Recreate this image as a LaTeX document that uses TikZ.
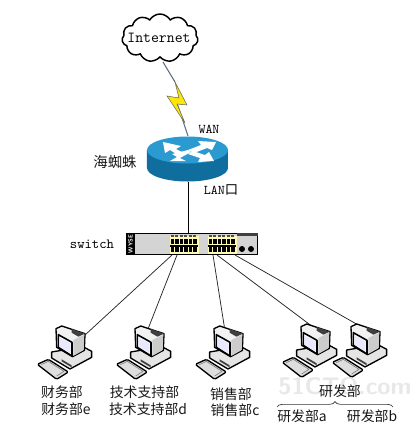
\documentclass[tikz,border=0pt]{standalone}
\usepackage{fontspec}
\usepackage{tikz}
\usetikzlibrary{shapes.symbols,decorations.pathreplacing}
\newfontfamily\cjkfont{Noto Sans CJK SC}[Scale=1]
\definecolor{routertop}{HTML}{2A9AD0}
\definecolor{routerside}{HTML}{0F6E9E}
\definecolor{boltline}{HTML}{5E6E7E}
\tikzset{
  x=0.75pt,y=-0.75pt,
  lab/.style={font=\cjkfont\fontsize{10.4pt}{11pt}\selectfont,inner sep=0pt,text=black!90},
  latin/.style={font=\ttfamily\fontsize{10pt}{11pt}\selectfont,inner sep=0pt},
  link/.style={draw=black!85,line width=0.55pt},
  pc/.pic={
    \begin{scope}[x=0.25pt,y=-0.25pt,line join=round,line width=1pt]
      % keyboard
      \draw[fill=black!13,rounded corners=1pt] (52,133)--(85,118)--(145,156)--(110,178)--cycle;
      \draw[black!50,line width=0.5pt] (64,134)--(85,124)--(132,154)--(110,168);
      % base
      \draw[fill=black!10] (95,96)--(95,114)--(150,147)--(215,112)--(215,94)--(185,78)--(130,90)--cycle;
      \fill[black!75] (125,118)--(155,136)--(155,142)--(125,124)--cycle;
      % monitor body
      \draw[fill=black!5] (108,26)--(125,18)--(195,41)--(193,91)--(158,110)--(110,82)--cycle;
      \fill[black!75] (155,27)--(195,41)--(175,50)--(155,38)--cycle;
      \fill[black!20] (160,60)--(193,44)--(191,90)--(160,108)--cycle;
      % screen
      \draw[fill=white,line width=1.2pt] (115,44)--(156,67)--(156,108)--(115,82)--cycle;
      \fill[blue!9] (119,52)--(152,71)--(152,100)--(119,79)--cycle;
    \end{scope}
  }
}
\begin{document}
\begin{tikzpicture}
\useasboundingbox[fill=white] (0,0) rectangle (420,437);

% watermark
\node[font=\sffamily\bfseries\fontsize{18pt}{18pt}\selectfont,text=black!9,inner sep=0pt] (mark) at (345,386) {51CTO.com};

% cloud
\node[cloud,cloud puffs=11,cloud puff arc=120,aspect=1.5,draw=black,line width=1.1pt,fill=white,
      minimum width=57pt,minimum height=36pt,inner sep=0pt] (cloud) at (160,38) {};
\node[font=\ttfamily\fontsize{11.5pt}{12pt}\selectfont,inner sep=0pt] (inet) at (159,38) {Internet};

% router
\fill[routerside] (147,150)--(147,168) arc[start angle=180,end angle=360,x radius=40.5,y radius=-13.5]--(228,150)--cycle;
\fill[routertop] (187.5,150) ellipse[x radius=40.5,y radius=13.5];
\fill[white] (163,142)--(181,146)--(176,149)--(184,153)--(178,155)--(170,150)--(165,153)--cycle;
\fill[white] (216,142)--(198,141)--(201,145)--(188,150)--(194,153)--(207,148)--(212,150)--cycle;
\fill[white] (170,161)--(177,157)--(172,154)--(188,150)--(191,152)--(180,158)--(186,161)--cycle;
\fill[white] (214,161)--(198,162)--(200,158)--(188,154)--(193,151)--(205,155)--(209,152)--cycle;
\coordinate (rtop) at (188,136);
\coordinate (rbot) at (188,182);

% lightning
\coordinate (btop) at (175,82);
\coordinate (bbot) at (177,103);
\draw[boltline,line width=0.8pt] (163,62)--(btop);
\draw[boltline,line width=0.8pt] (bbot)--(rtop);
\draw[fill=yellow!90!orange,draw=black!60,line width=0.4pt,line join=miter] (btop)--(187,105)--(177,104)--(185,123)--(167,96)--(179,98)--cycle;

% switch
\node[draw=black,line width=0.9pt,fill=black!17,minimum width=98.5pt,minimum height=16pt,inner sep=0pt] (sw) at (192,244) {};
\fill[black] (126,233) rectangle (135,255);
\node[rotate=90,font=\sffamily\bfseries\fontsize{4.5pt}{5pt}\selectfont,text=white,inner sep=0pt] (brand) at (130.5,244) {WYSE};
\fill[black!75] (237,233) rectangle (258,236);
\foreach \xa in {170,208}{
  \fill[yellow!30!white] (\xa,236) rectangle ++(29,18);
  \foreach \i in {0,...,5}{
    \fill[black!70] (\xa+1+4.5*\i,235) rectangle ++(3,1.5);
    \fill[black] (\xa+1+4.5*\i,239) rectangle ++(3.2,5);
    \fill[black] (\xa+1+4.5*\i,247) rectangle ++(3.2,5);
  }
  \fill[black] (\xa,245) rectangle ++(28,1.5);
}
\fill[black] (242,249) circle[radius=3];
\fill[black] (251,249) circle[radius=3];
\coordinate (sw1) at (172,255);
\coordinate (sw2) at (177,255);
\coordinate (sw3) at (213,255);
\coordinate (sw4) at (217,255);
\coordinate (sw5) at (235,255);

% uplink
\draw[black,line width=0.7pt] (rbot)--(sw.north -| rbot);

% pc link ends
\coordinate (pc1) at (85,335);
\coordinate (pc2) at (148,329);
\coordinate (pc3) at (225,331);
\coordinate (pc4) at (317,330);
\coordinate (pc5) at (367,330);
\foreach \a/\b in {sw1/pc1,sw2/pc2,sw3/pc3,sw4/pc4,sw5/pc5}
  \draw[link] (\a)--(\b);

% computers
\pic at (20,320) {pc};
\pic at (99,320) {pc};
\pic at (178,320) {pc};
\pic at (265,318) {pc};
\pic at (315,318) {pc};

% labels
\node[latin] (wan) at (209,129) {WAN};
\node[lab,font=\cjkfont\fontsize{10.8pt}{11pt}\selectfont] (hzz) at (115,162) {海蜘蛛};
\node[latin] (lan) at (221,190) {LAN\cjkfont 口};
\node[latin,font=\ttfamily\fontsize{10.5pt}{11pt}\selectfont] (swl) at (92,244) {switch};
\node[lab] (l1a) at (62,392) {财务部};
\node[lab] (l1b) at (66,409) {财务部e};
\node[lab] (l2a) at (144.5,392) {技术支持部};
\node[lab] (l2b) at (148,409) {技术支持部d};
\node[lab] (l3a) at (231,394) {销售部};
\node[lab] (l3b) at (235,410) {销售部c};
\node[lab] (l4) at (340,391) {研发部};
\node[lab] (l4a) at (302,416) {研发部a};
\node[lab] (l4b) at (372,416) {研发部b};
\draw[black!80,line width=0.5pt,decorate,decoration={brace,amplitude=4pt}] (277,407)--(393,407);
\end{tikzpicture}
\end{document}
